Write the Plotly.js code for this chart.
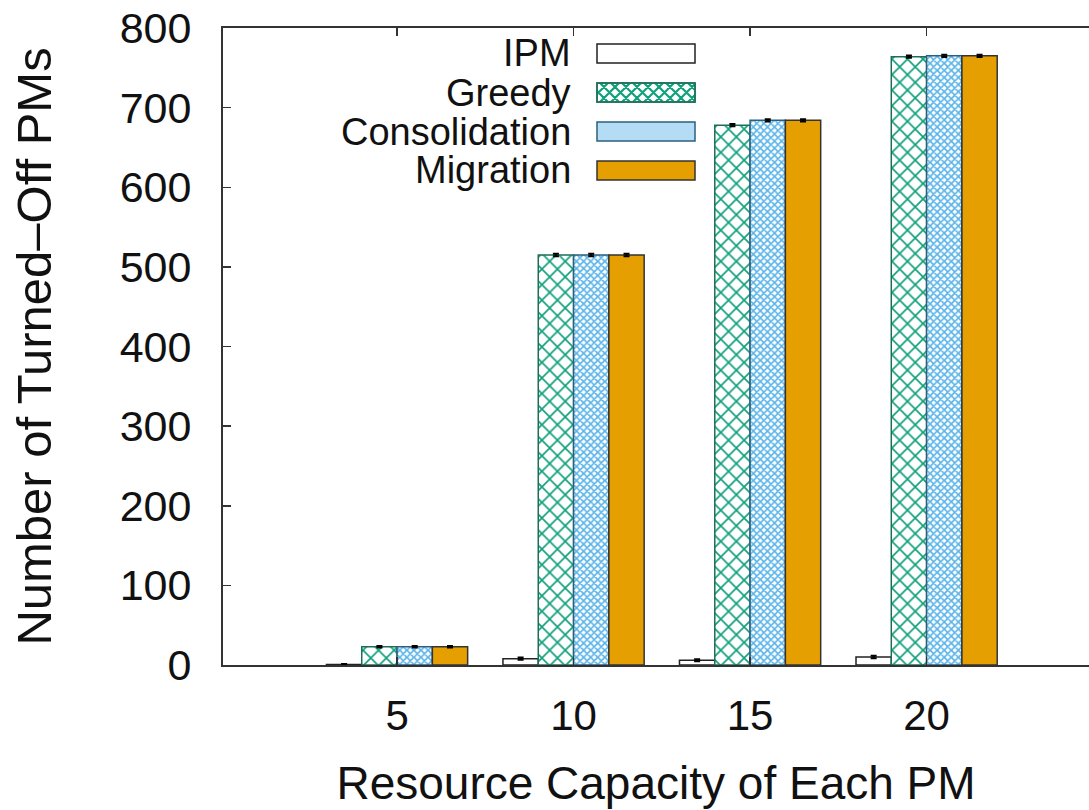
<!DOCTYPE html>
<html>
<head>
<meta charset="utf-8">
<script src="https://cdn.plot.ly/plotly-3.0.1.min.js"></script>
<style>
  html, body { margin: 0; padding: 0; background: #fff; overflow: hidden; }
  #chart { width: 1089px; height: 810px; }
</style>
</head>
<body>
<div id="chart"></div>
<script>
// ---- data ----
const categories = ['5', '10', '15', '20'];
const seriesNames = ['IPM', 'Greedy', 'Consolidation', 'Migration'];
const ipm = [0.6, 8, 6, 10];
const greedy = [23, 515, 678, 764];
const consolidation = [23, 515, 684, 765];
const migration = [23, 515, 684, 765];
const ipmErr = [0.5, 1.5, 1.2, 1.5];
const greedyErr = [1, 1.5, 1.5, 1.5];
const consolidationErr = [1, 1.5, 1.5, 1.5];
const migrationErr = [1, 1.5, 1.5, 1.5];
const xTitle = 'Resource Capacity of Each PM';
const yTitle = 'Number of Turned\u2013Off PMs';

// ---- layout geometry (pixels) ----
const W = 1089, H = 810;
const L = 223, T = 28, R = 0, B = 145;
const plotW = W - L - R, plotH = H - T - B;
const FONT = 'Liberation Sans, Arial, Helvetica, sans-serif';

function px2x(px) { return (px - L) / plotW; }
function py2y(py) { return (H - B - py) / plotH; }

const errStyle = { type: 'data', color: '#000', thickness: 2, width: 3, visible: true };

const traces = [
  {
    type: 'bar', name: seriesNames[0], x: categories, y: ipm,
    marker: { color: '#ffffff', line: { color: '#222', width: 1.5 } },
    error_y: Object.assign({ array: ipmErr }, errStyle)
  },
  {
    type: 'bar', name: seriesNames[1], x: categories, y: greedy,
    marker: {
      color: '#ffffff', line: { color: '#1d6e58', width: 1.5 },
      pattern: { shape: 'x', fgcolor: '#11a07c', bgcolor: '#ffffff', size: 11, solidity: 0.28, fillmode: 'replace' }
    },
    error_y: Object.assign({ array: greedyErr }, errStyle)
  },
  {
    type: 'bar', name: seriesNames[2], x: categories, y: consolidation,
    marker: {
      color: '#ffffff', line: { color: '#2b5f7e', width: 1.5 },
      pattern: { shape: 'x', fgcolor: '#5ab4ea', bgcolor: '#ffffff', size: 5, solidity: 0.55, fillmode: 'replace' }
    },
    error_y: Object.assign({ array: consolidationErr }, errStyle)
  },
  {
    type: 'bar', name: seriesNames[3], x: categories, y: migration,
    marker: { color: '#e69f00', line: { color: '#333', width: 1.5 } },
    error_y: Object.assign({ array: migrationErr }, errStyle)
  }
];

// ---- custom legend (text left, key box right, like gnuplot) ----
const legendTextRight = 573;
const keyX0 = 597, keyX1 = 695;
const keyRows = [[44, 63], [83, 102], [122, 141], [161, 180]];
const annotations = [];
const shapes = [];

function hatchPath(x0, y0, x1, y1, s) {
  let d = '';
  const P = (x, y) => px2x(x).toFixed(5) + ',' + py2y(y).toFixed(5);
  for (let k = x0 - y1; k <= x1 - y0; k += s) {
    const xa = Math.max(x0, y0 + k), xb = Math.min(x1, y1 + k);
    if (xb > xa) d += 'M' + P(xa, xa - k) + 'L' + P(xb, xb - k);
  }
  for (let k = x0 + y0; k <= x1 + y1; k += s) {
    const xa = Math.max(x0, k - y1), xb = Math.min(x1, k - y0);
    if (xb > xa) d += 'M' + P(xa, k - xa) + 'L' + P(xb, k - xb);
  }
  return d;
}

const keyFill = ['#ffffff', '#ffffff', '#b4dcf4', '#e69f00'];
const keyLine = ['#222', '#1d6e58', '#2b5f7e', '#333'];
seriesNames.forEach((name, i) => {
  const [ya, yb] = keyRows[i];
  annotations.push({
    xref: 'paper', yref: 'paper', x: px2x(legendTextRight), y: py2y((ya + yb) / 2),
    xanchor: 'right', yanchor: 'middle', showarrow: false, text: name,
    font: { family: FONT, size: 38, color: '#111' }
  });
  shapes.push({
    type: 'rect', xref: 'paper', yref: 'paper',
    x0: px2x(keyX0), x1: px2x(keyX1), y0: py2y(yb), y1: py2y(ya),
    fillcolor: keyFill[i], line: { color: keyLine[i], width: 1.5 }, layer: 'above'
  });
  if (i === 1) {
    shapes.push({
      type: 'path', xref: 'paper', yref: 'paper', path: hatchPath(keyX0, ya, keyX1, yb, 11),
      line: { color: '#11a07c', width: 2.2 }, layer: 'above'
    });
    shapes.push({
      type: 'rect', xref: 'paper', yref: 'paper',
      x0: px2x(keyX0), x1: px2x(keyX1), y0: py2y(yb), y1: py2y(ya),
      fillcolor: 'rgba(0,0,0,0)', line: { color: keyLine[i], width: 1.5 }, layer: 'above'
    });
  }
});

const layout = {
  width: W, height: H,
  margin: { l: L, r: R, t: T, b: B, pad: 0 },
  paper_bgcolor: '#ffffff', plot_bgcolor: '#ffffff',
  showlegend: false,
  barmode: 'group', bargap: 0.2, bargroupgap: 0,
  font: { family: FONT, color: '#111' },
  xaxis: {
    type: 'category', categoryorder: 'array', categoryarray: categories,
    range: [-0.986, 3.92],
    showline: true, linecolor: '#333', linewidth: 2, mirror: 'allticks',
    ticks: 'inside', ticklen: 8, tickwidth: 1.5, tickcolor: '#333',
    showgrid: false, zeroline: false,
    tickfont: { family: FONT, size: 42, color: '#111' },
    ticklabelstandoff: 13,
    title: { text: xTitle, font: { family: FONT, size: 46, color: '#111' }, standoff: 28 },
    automargin: true, fixedrange: true
  },
  yaxis: {
    range: [0, 800], tickvals: [0, 100, 200, 300, 400, 500, 600, 700, 800],
    showline: true, linecolor: '#333', linewidth: 2, mirror: false,
    ticks: 'inside', ticklen: 8, tickwidth: 1.5, tickcolor: '#333',
    showgrid: false, zeroline: false,
    tickfont: { family: FONT, size: 43, color: '#111' },
    ticklabelstandoff: 21,
    title: { text: yTitle, font: { family: FONT, size: 49, color: '#111' }, standoff: 53 },
    automargin: true, fixedrange: true
  },
  annotations: annotations,
  shapes: shapes
};

Plotly.newPlot('chart', traces, layout, { displayModeBar: false, staticPlot: true });
</script>
</body>
</html>
